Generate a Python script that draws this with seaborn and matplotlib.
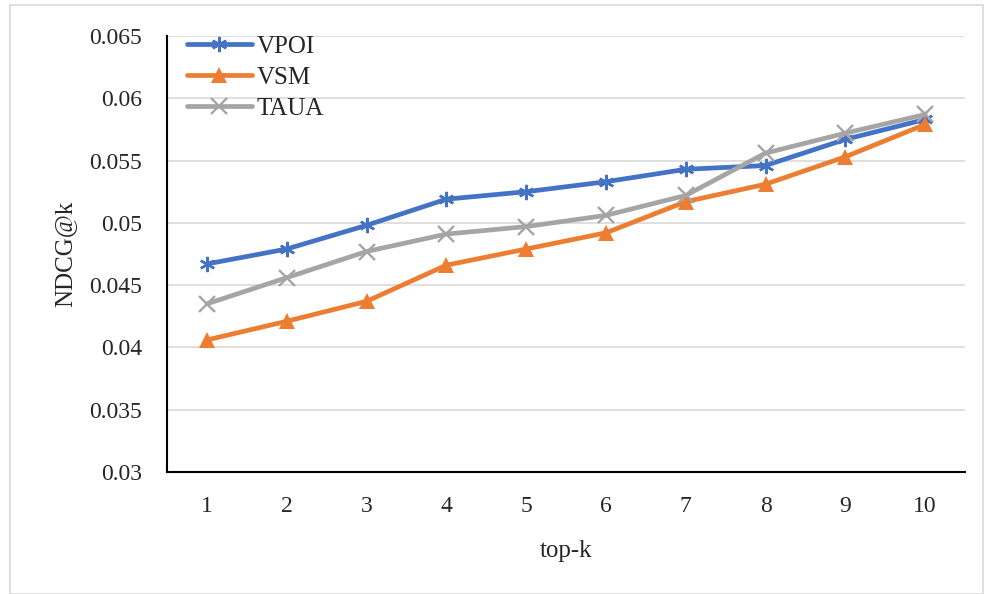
import matplotlib
matplotlib.use("Agg")
import matplotlib.pyplot as plt
import seaborn as sns
import pandas as pd
from matplotlib.patches import Rectangle

k = [1, 2, 3, 4, 5, 6, 7, 8, 9, 10]
vpoi = [0.0467, 0.0479, 0.0498, 0.0519, 0.0525, 0.0533, 0.0543, 0.0546, 0.0567, 0.0583]
vsm = [0.0406, 0.0421, 0.0437, 0.0466, 0.0479, 0.0492, 0.0517, 0.0531, 0.0553, 0.0579]
taua = [0.0435, 0.0456, 0.0477, 0.0491, 0.0497, 0.0506, 0.0522, 0.0556, 0.0572, 0.0587]
yticks = [0.03, 0.035, 0.04, 0.045, 0.05, 0.055, 0.06, 0.065]
ytick_labels = ["0.03", "0.035", "0.04", "0.045", "0.05", "0.055", "0.06", "0.065"]

series = ["VPOI", "VSM", "TAUA"]
colors = {"VPOI": "#4472C4", "VSM": "#ED7D31", "TAUA": "#A5A5A5"}
markers = {"VPOI": (6, 2, 0), "VSM": "^", "TAUA": "x"}

df = pd.concat([
    pd.DataFrame({"k": k, "value": vpoi, "method": "VPOI"}),
    pd.DataFrame({"k": k, "value": vsm, "method": "VSM"}),
    pd.DataFrame({"k": k, "value": taua, "method": "TAUA"}),
])

sns.set_style("white")
plt.rcParams["font.family"] = ["Liberation Serif", "DejaVu Serif"]

fig = plt.figure(figsize=(9.93, 5.94), dpi=100)
ax = fig.add_axes([167/993, 1-472/594, (965-167)/993, (472-36)/594])

for m in series:
    sub = df[df["method"] == m]
    sns.lineplot(data=sub, x="k", y="value", ax=ax, color=colors[m], linewidth=3.4,
                 marker=markers[m], markersize=11, markeredgewidth=1.7 if m != "VSM" else 0,
                 markeredgecolor=colors[m], label=m)

ax.set_xlim(0.5, 10.5)
ax.set_ylim(0.03, 0.065)
ax.set_xticks(k)
ax.set_xticklabels([str(v) for v in k], fontsize=17)
ax.set_yticks(yticks)
ax.set_yticklabels(ytick_labels, fontsize=17)
ax.tick_params(axis="x", length=0, pad=17)
ax.tick_params(axis="y", length=0, pad=18)
ax.yaxis.grid(True, color="#D9D9D9", linewidth=1.2)
ax.xaxis.grid(False)
ax.set_axisbelow(True)
for s in ["top", "right"]:
    ax.spines[s].set_visible(False)
for s in ["left", "bottom"]:
    ax.spines[s].set_color("black")
    ax.spines[s].set_linewidth(1.5)
ax.set_xlabel("top-k", fontsize=18, labelpad=17)
ax.set_ylabel("NDCG@k", fontsize=18, labelpad=9)

leg = ax.legend(loc="upper left", frameon=False, fontsize=18, handlelength=2.6,
                handletextpad=0.2, labelspacing=0.35, borderaxespad=0.0,
                bbox_to_anchor=(0.012, 1.025))

fig.patches.append(Rectangle((10/993, 0), (983-10)/993, 1-5/594, transform=fig.transFigure,
                             fill=False, edgecolor="#D9D9D9", linewidth=1.2))

fig.savefig("out.png", dpi=100)
